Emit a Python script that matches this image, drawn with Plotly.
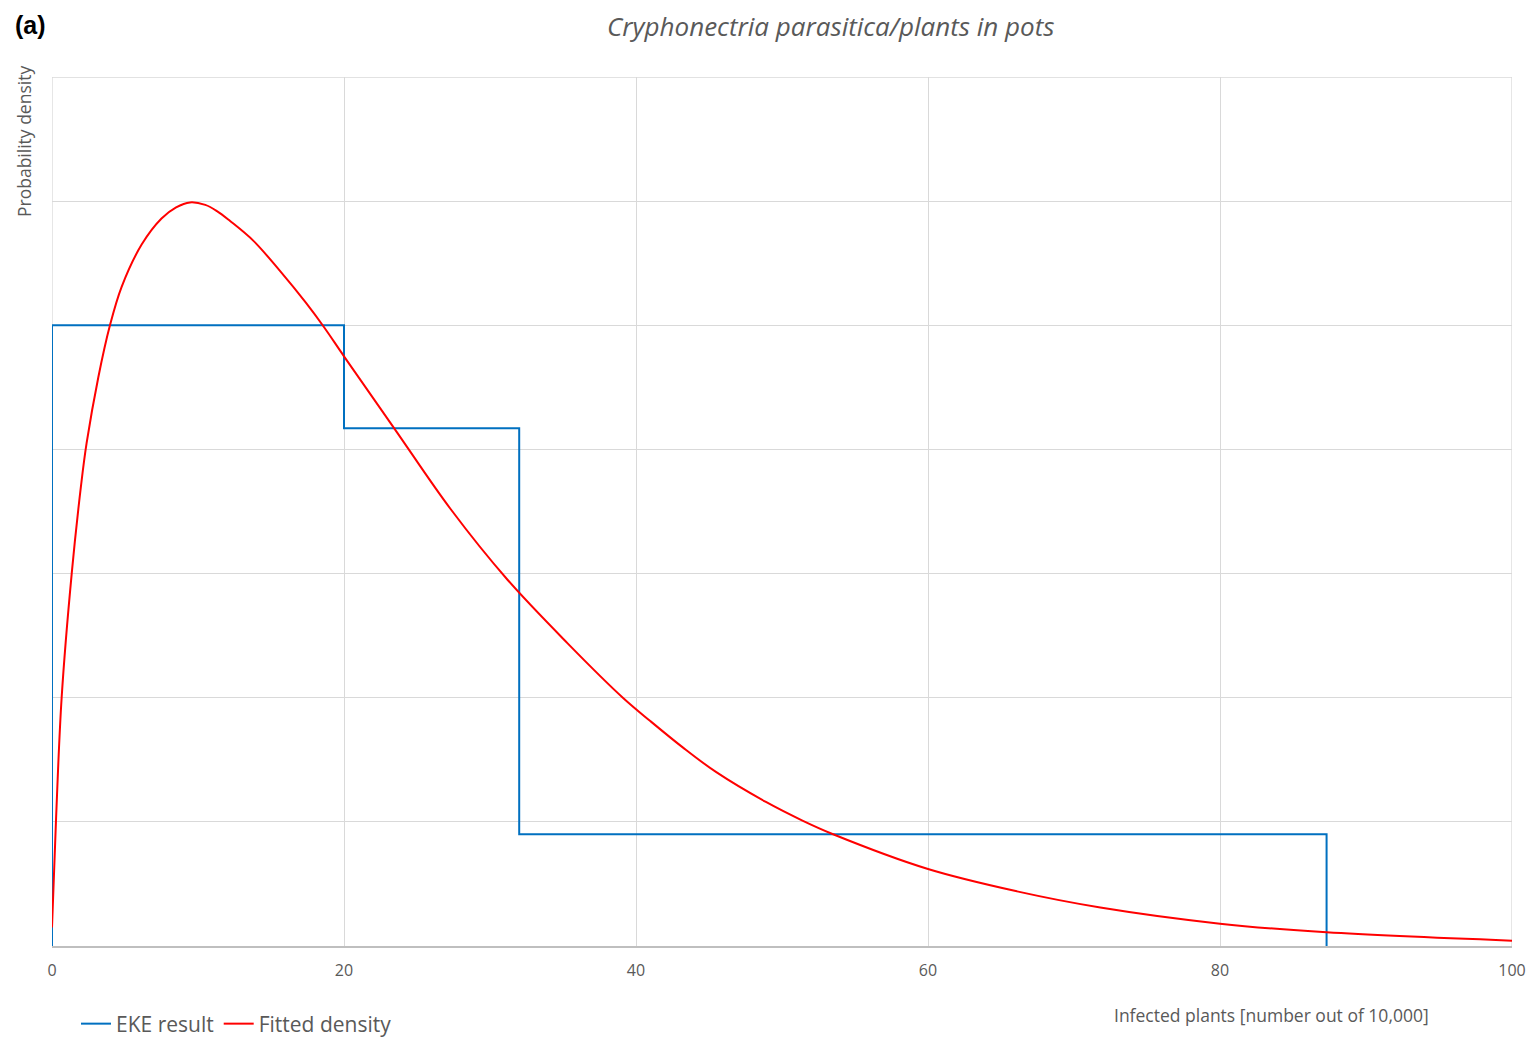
import plotly.graph_objects as go

# EKE result (step histogram outline)
eke_x = [0, 0, 20, 20, 32, 32, 87.3, 87.3]
eke_y = [0, 5.0, 5.0, 4.17, 4.17, 0.90, 0.90, 0]

# Fitted density
fit_x = [0, 0.27, 0.66, 1.35, 2.0, 2.37, 3.17, 3.97, 4.77, 6.14, 7.5, 8.5, 9.45,
         10.5, 11.3, 12.2, 13.8, 15.6, 17.4, 18.6, 20.0, 23.5, 27.3, 31.2, 35.3, 39.1,
         41.0, 43.2, 45.5, 48.9, 51.4, 53.5, 60, 66.1, 71.8, 80, 87.3, 100]
fit_y = [0.15, 1.0, 2.0, 3.0, 3.72, 4.05, 4.58, 5.0, 5.31, 5.65, 5.86, 5.95, 5.99,
         5.97, 5.92, 5.84, 5.68, 5.44, 5.18, 4.99, 4.75, 4.16, 3.52, 2.95, 2.44, 2.0,
         1.81, 1.60, 1.40, 1.16, 1.01, 0.90, 0.62, 0.44, 0.31, 0.18, 0.11, 0.043]

x_ticks = [0, 20, 40, 60, 80, 100]

OFF = 8  # page body margin
W, H = 1536 - OFF, 1040 - OFF
L, T = 52 - OFF, 77 - OFF
R = W - (1512 - OFF)
B = H - (946 - OFF)
PW, PH = W - L - R, H - T - B
FONT = "Open Sans"
GRAY = "#595959"
GRID = "#d9d9d9"


def px_x(page_x):
    return (page_x - OFF - L) / PW


def px_y(page_y):
    return 1 - (page_y - OFF - T) / PH


fig = go.Figure()
fig.add_trace(go.Scatter(x=eke_x, y=eke_y, mode="lines", name="EKE result",
                         line=dict(color="#0070C0", width=2)))
fig.add_trace(go.Scatter(x=fit_x, y=fit_y, mode="lines", name="Fitted density",
                         line=dict(color="#FF0000", width=2, shape="spline", smoothing=1.0)))

fig.update_layout(
    width=W, height=H,
    margin=dict(l=L, r=R, t=T, b=B, autoexpand=False),
    paper_bgcolor="white", plot_bgcolor="white",
    font=dict(family=FONT, color=GRAY),
    xaxis=dict(range=[0, 100], tickvals=x_ticks, ticktext=[str(v) for v in x_ticks],
               showgrid=True, gridcolor=GRID, gridwidth=1.3,
               showline=True, linecolor="#bfbfbf", linewidth=1.5,
               zeroline=False, ticks="", tickfont=dict(size=16, color=GRAY),
               ticklabelstandoff=9),
    yaxis=dict(range=[0, 7], dtick=1, showticklabels=False,
               showgrid=True, gridcolor=GRID, gridwidth=1.3,
               zeroline=False, showline=False),
    showlegend=True,
    legend=dict(orientation="h", x=px_x(76), xanchor="left",
                y=px_y(1024), yanchor="middle",
                font=dict(size=21, color=GRAY), itemwidth=30,
                bgcolor="rgba(0,0,0,0)"),
)

# border gridlines (left, right, top)
for x0, x1, y0, y1 in [(0, 0, 0, 7), (100, 100, 0, 7), (0, 100, 7, 7)]:
    fig.add_shape(type="line", xref="x", yref="y", x0=x0, x1=x1, y0=y0, y1=y1,
                  line=dict(color=GRID, width=1.3), layer="below")

fig.add_annotation(text="<i>Cryphonectria parasitica/plants in pots</i>",
                   xref="paper", yref="paper", x=px_x(830), y=px_y(26),
                   xanchor="center", yanchor="middle", showarrow=False,
                   font=dict(family=FONT, size=26, color=GRAY))
fig.add_annotation(text="<b>(a)</b>", xref="paper", yref="paper",
                   x=px_x(13), y=px_y(OFF + 1),
                   xanchor="left", yanchor="top", showarrow=False,
                   font=dict(family="Liberation Sans", size=25, color="black"))
fig.add_annotation(text="Probability density", xref="paper", yref="paper",
                   x=px_x(24), y=px_y(142),
                   xanchor="center", yanchor="middle", textangle=-90, showarrow=False,
                   font=dict(size=17.5, color=GRAY))
fig.add_annotation(text="Infected plants [number out of 10,000]", xref="paper", yref="paper",
                   x=px_x(1271), y=px_y(1015),
                   xanchor="center", yanchor="middle", showarrow=False,
                   font=dict(size=17.5, color=GRAY))

fig.write_html("out.html")
